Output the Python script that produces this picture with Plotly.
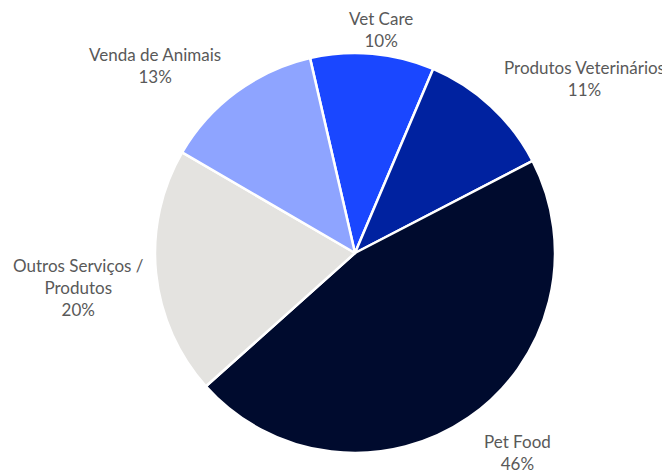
import plotly.graph_objects as go

labels = ["Vet Care", "Produtos Veterinários", "Pet Food", "Outros Serviços /<br>Produtos", "Venda de Animais"]
values = [10, 11, 46, 20, 13]
colors = ["#1a47ff", "#0022a0", "#000b2e", "#e4e3e0", "#8ea4ff"]

# label block centre offsets from the pie centre, in pixels (layout only)
label_offsets = [(26, -223), (229, -174), (162, 199), (-277, 34), (-200, -187)]

W, H = 670, 470
PAGE = 8  # default body margin of the html page
cx, cy, r = 355 - PAGE, 253 - PAGE, 200

fig = go.Figure(go.Pie(
    labels=labels,
    values=values,
    sort=False,
    direction="clockwise",
    rotation=-13,
    marker=dict(colors=colors, line=dict(color="white", width=2.5)),
    textinfo="none",
    domain=dict(x=[(cx - r) / W, (cx + r) / W], y=[(H - cy - r) / H, (H - cy + r) / H]),
    showlegend=False,
    hoverinfo="label+percent",
))

total = sum(values)
annotations = []
for lab, val, (dx, dy) in zip(labels, values, label_offsets):
    pct = round(100 * val / total)
    annotations.append(dict(
        text=f"{lab}<br>{pct}%",
        x=(cx + dx) / W, y=1 - (cy + dy) / H,
        xref="paper", yref="paper",
        xanchor="center", yanchor="middle",
        showarrow=False, align="center",
        font=dict(family="Lato", size=17, color="#595959"),
    ))

fig.update_layout(
    width=W, height=H,
    margin=dict(l=0, r=0, t=0, b=0),
    paper_bgcolor="white",
    plot_bgcolor="white",
    annotations=annotations,
)

fig.write_html("out.html")
